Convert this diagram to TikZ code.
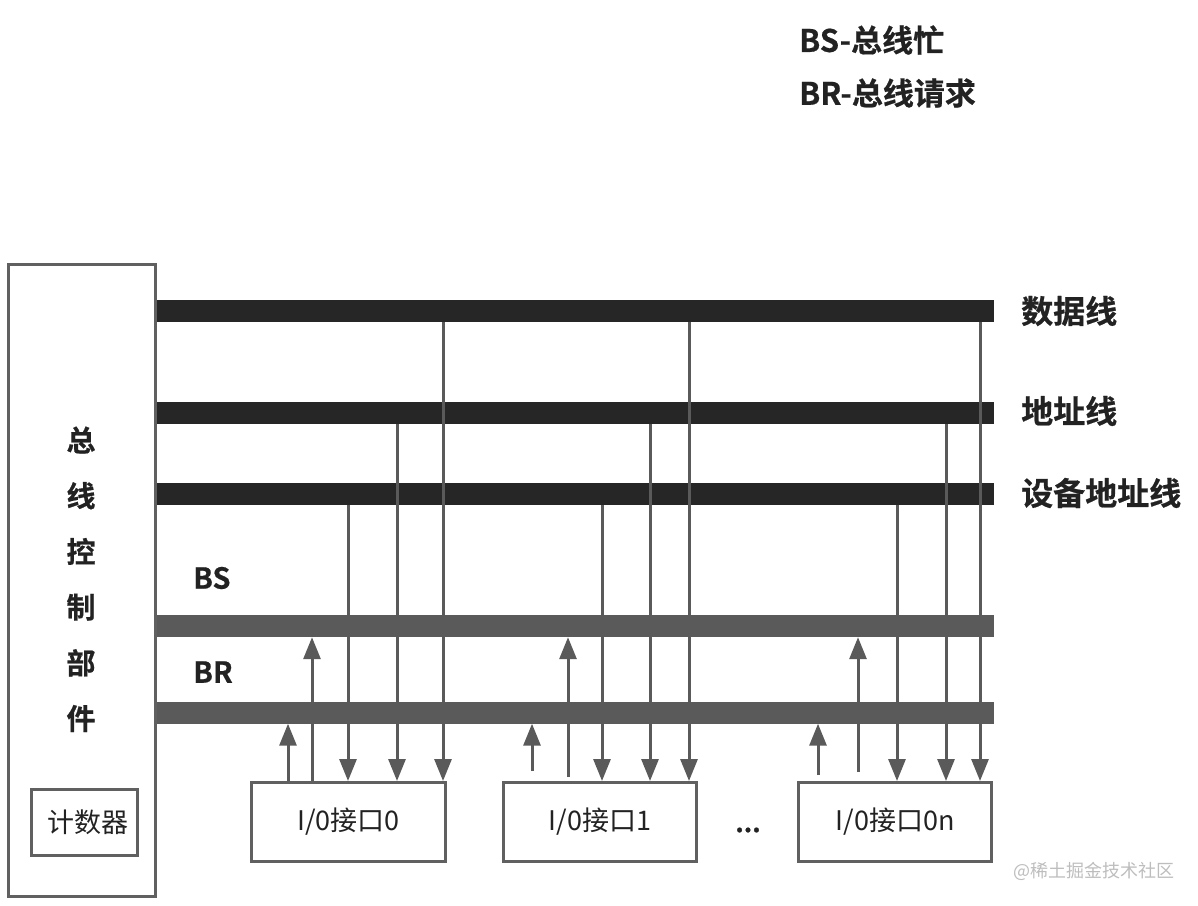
\documentclass[tikz,border=0pt]{standalone}
\usepackage{fontspec}
\setmainfont{Noto Sans CJK SC}[BoldFont={Noto Sans CJK SC Bold}, BoldFeatures={FakeBold=0.6}]
\usetikzlibrary{arrows.meta}
\definecolor{barD}{HTML}{262626}
\definecolor{barG}{HTML}{5A5A5A}
\definecolor{lineG}{HTML}{5A5A5A}
\definecolor{boxG}{HTML}{606060}
\definecolor{txt}{HTML}{222222}
\definecolor{wmark}{HTML}{BDBDBD}
\begin{document}
\begin{tikzpicture}[x=1pt,y=-1pt,
  bus/.style={draw=none, fill=#1, minimum width=837pt, minimum height=22pt, inner sep=0pt},
  conn/.style={draw=lineG, line width=3pt},
  arr/.style={conn, -{Triangle[width=17pt,length=22pt]}},
  iobox/.style={draw=boxG, line width=3pt, minimum width=193pt, minimum height=79pt, inner sep=0pt, font=\fontsize{27pt}{27pt}\selectfont, text=txt},
  lab/.style={font=\bfseries\fontsize{32pt}{32pt}\selectfont, text=txt, inner sep=0pt, anchor=west},
  vlab/.style={font=\bfseries\fontsize{29pt}{29pt}\selectfont, text=txt, inner sep=0pt},
]
\useasboundingbox (0,0) rectangle (1198,905);
% buses
\node[bus=barD] (data) at (575.5,311) {};
\node[bus=barD] (addr) at (575.5,412.5) {};
\node[bus=barD] (dev) at (575.5,494) {};
\node[bus=barG] (bs) at (575.5,626) {};
\node[bus=barG] (br) at (575.5,712.5) {};
% control unit
\node[draw=boxG, line width=3pt, minimum width=147pt, minimum height=632pt, inner sep=0pt] (ctrl) at (82,580.5) {};
\node[draw=boxG, line width=3pt, minimum width=106pt, minimum height=66pt, inner sep=0pt, font=\fontsize{27pt}{27pt}\selectfont, text=txt] (cnt) at (84.5,822.5) {\hspace{6pt}计数器};
\foreach \c [count=\i] in {总,线,控,制,部,件}
  \node[vlab] (v\i) at (81,{440+55.7*(\i-1)}) {\c};
% labels
\node[lab] (ldata) at (1021,311) {数据线};
\node[lab] (laddr) at (1021,411) {地址线};
\node[lab] (ldev) at (1021,493) {设备地址线};
\node[lab, font=\bfseries\fontsize{29pt}{29pt}\selectfont] (lbs) at (193,578) {BS};
\node[lab, font=\bfseries\fontsize{29pt}{29pt}\selectfont] (lbr) at (193,672) {BR};
\node[lab, font=\bfseries\fontsize{31pt}{31pt}\selectfont] (leg1) at (799,40) {BS-总线忙};
\node[lab, font=\bfseries\fontsize{31pt}{31pt}\selectfont] (leg2) at (799,93) {BR-总线请求};
% io boxes
\node[iobox, minimum width=194pt] (io0) at (348.5,822) {I/0接口0};
\node[iobox] (io1) at (600,822) {I/0接口1};
\node[iobox] (ion) at (895,822) {I/0接口0n};
\node[font=\bfseries\fontsize{26pt}{26pt}\selectfont, text=txt, inner sep=0pt] (dots) at (748,830) {...};
\node[anchor=west, text=wmark, inner sep=0pt, font=\fontsize{18pt}{18pt}\selectfont] (wm) at (1013,871) {@稀土掘金技术社区};
% x positions
\foreach \n/\x in {a0/288,b0/312,c0/348,d0/397,e0/443,
                   a1/532,b1/568,c1/602,d1/650,e1/689,
                   an/818,bn/858,cn/897,dn/946,en/980}
  \coordinate (\n) at (\x,0);
% group 0
\draw[arr] (io0.north -| a0) -- (br.south -| a0);
\draw[arr] (io0.north -| b0) -- (bs.south -| b0);
\draw[arr] (dev.south -| c0) -- (io0.north -| c0);
\draw[arr] (addr.south -| d0) -- (io0.north -| d0);
\draw[arr] (data.south -| e0) -- (io0.north -| e0);
% group 1
\draw[arr] ([yshift=10pt]io1.north -| a1) -- (br.south -| a1);
\draw[arr] ([yshift=4pt]io1.north -| b1) -- (bs.south -| b1);
\draw[arr] (dev.south -| c1) -- (io1.north -| c1);
\draw[arr] (addr.south -| d1) -- (io1.north -| d1);
\draw[arr] (data.south -| e1) -- (io1.north -| e1);
% group n
\draw[arr] ([yshift=6pt]ion.north -| an) -- (br.south -| an);
\draw[arr] ([yshift=9pt]ion.north -| bn) -- (bs.south -| bn);
\draw[arr] (dev.south -| cn) -- (ion.north -| cn);
\draw[arr] (addr.south -| dn) -- (ion.north -| dn);
\draw[arr] (data.south -| en) -- (ion.north -| en);
\end{tikzpicture}
\end{document}
